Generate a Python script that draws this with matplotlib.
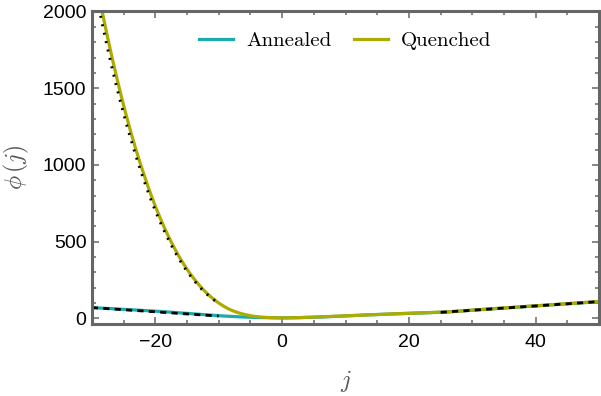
import numpy as np
import matplotlib
matplotlib.use("Agg")
import matplotlib.pyplot as plt
from matplotlib.ticker import MultipleLocator

plt.rcParams['mathtext.fontset'] = 'cm'

# ---- data ----
q_j = [-30, -28, -26, -24, -22, -20, -18, -16, -14, -12, -10, -8, -6, -4, -2, 0,
       5, 10, 15, 20, 25, 30, 35, 40, 45, 50]
q_phi = [2345, 1922, 1553, 1233, 961, 730, 539, 384, 262, 168, 99, 52, 25, 10, 4, 2,
         7, 16, 25, 32, 39, 53, 67, 81, 95, 109]

a_j = [-30, -25, -20, -15, -10, -5, 0, 5, 10, 15, 20, 25, 30, 35, 40, 45, 50]
a_phi = [69, 58, 46, 31, 16, 6, 2, 6, 15, 24, 31, 38, 52, 66, 80, 94, 108]

q_asym_j = [-30, -28, -26, -24, -22, -20, -18, -16, -14, -12, -10]
q_asym_phi = [2250, 1845, 1490, 1185, 922, 700, 517, 368, 251, 161, 95]

a_asym_left_j = [-30, -10]
a_asym_left_phi = [69, 14]
a_asym_right_j = [25, 50]
a_asym_right_phi = [38, 108]

series_labels = ["Annealed", "Quenched"]
x_major = [-20, 0, 20, 40]
y_major = [0, 500, 1000, 1500, 2000]


def pchip(x, y, n=400):
    """Smooth monotone cubic curve through the given points."""
    x = np.asarray(x, float)
    y = np.asarray(y, float)
    h = np.diff(x)
    d = np.diff(y) / h
    m = np.zeros_like(y)
    for k in range(1, len(x) - 1):
        if d[k - 1] * d[k] > 0:
            w1 = 2 * h[k] + h[k - 1]
            w2 = h[k] + 2 * h[k - 1]
            m[k] = (w1 + w2) / (w1 / d[k - 1] + w2 / d[k])
    m[0] = d[0]
    m[-1] = d[-1]
    xs = np.linspace(x[0], x[-1], n)
    idx = np.clip(np.searchsorted(x, xs) - 1, 0, len(x) - 2)
    t = (xs - x[idx]) / h[idx]
    h00 = 2 * t**3 - 3 * t**2 + 1
    h10 = t**3 - 2 * t**2 + t
    h01 = -2 * t**3 + 3 * t**2
    h11 = t**3 - t**2
    ys = (h00 * y[idx] + h10 * h[idx] * m[idx] + h01 * y[idx + 1]
          + h11 * h[idx] * m[idx + 1])
    return xs, ys


c_ann = '#1aabab'
c_que = '#abab00'
frame = '#666666'

fig = plt.figure(figsize=(6.01, 3.96), dpi=100)
ax = fig.add_axes([0.153, 0.181, 0.844, 0.791])

ax.plot(*pchip(a_j, a_phi), color=c_ann, lw=2.3, label=series_labels[0])
ax.plot(*pchip(q_j, q_phi), color=c_que, lw=2.3, label=series_labels[1])
ax.plot(a_asym_left_j, a_asym_left_phi, color='black', lw=2.0, dashes=(2.2, 1.9))
ax.plot(a_asym_right_j, a_asym_right_phi, color='black', lw=2.0, dashes=(2.2, 1.9))
ax.plot(*pchip(q_asym_j, q_asym_phi), color='black', lw=2.0, dashes=(0.7, 2.4))

ax.set_xlim(-30, 50)
ax.set_ylim(-40, 2003)
ax.set_xticks(x_major)
ax.set_yticks(y_major)
ax.xaxis.set_minor_locator(MultipleLocator(5))
ax.yaxis.set_minor_locator(MultipleLocator(100))

for s in ax.spines.values():
    s.set_color(frame)
    s.set_linewidth(2.2)

ax.tick_params(which='both', direction='in', top=True, right=True, color=frame,
               width=1.1, labelsize=14, labelcolor='black')
ax.tick_params(which='major', length=4.7)
ax.tick_params(which='minor', length=3.0)
ax.tick_params(axis='x', which='major', pad=7)
ax.tick_params(axis='y', which='major', pad=4)
for lab in ax.get_xticklabels() + ax.get_yticklabels():
    lab.set_fontfamily('Liberation Sans')

ax.set_xlabel(r'$j$', fontsize=17, color='#555555')
ax.set_ylabel(r'$\phi\,(j)$', fontsize=17, color='#555555')
ax.xaxis.set_label_coords(0.5, -0.14)
ax.yaxis.set_label_coords(-0.12, 0.5)

leg = ax.legend(loc='center', bbox_to_anchor=(0.5, 0.905), ncol=2, frameon=False,
                handlelength=1.6, handletextpad=0.65, columnspacing=1.1,
                prop={'family': 'cmr10', 'size': 15})
for h in leg.get_lines():
    h.set_linewidth(2.3)

fig.savefig('out.png', dpi=100)
